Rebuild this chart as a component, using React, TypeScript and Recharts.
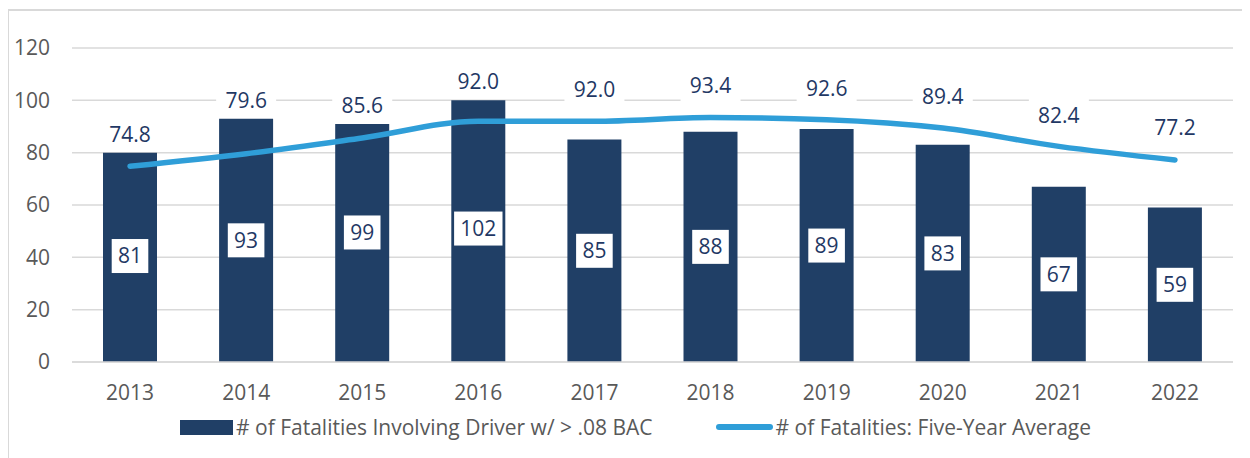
import React from "react";
import { ComposedChart, Bar, Line, XAxis, YAxis, CartesianGrid, LabelList, Legend } from "recharts";

const years = ["2013", "2014", "2015", "2016", "2017", "2018", "2019", "2020", "2021", "2022"];
const barHeights = [80, 93, 91, 100, 85, 88, 89, 83, 67, 59];
const barLabels = [81, 93, 99, 102, 85, 88, 89, 83, 67, 59];
const fiveYearAvg = [74.8, 79.6, 85.6, 92.0, 92.0, 93.4, 92.6, 89.4, 82.4, 77.2];
const yTicks = [0, 20, 40, 60, 80, 100, 120];
const lineLabelLift = [32, 53, 32, 40, 32, 32, 31, 32, 31, 32];

const BAR_NAME = "# of Fatalities Involving Driver w/ > .08 BAC";
const LINE_NAME = "# of Fatalities: Five-Year Average";

const data = years.map((y, i) => ({
  year: y,
  bar: barHeights[i],
  barLabel: barLabels[i],
  avg: fiveYearAvg[i],
}));

const FONT = "'Open Sans', sans-serif";
const NAVY = "#203F66";
const LABEL_NAVY = "#1F3864";
const BLUE = "#2F9ED8";
const GRID = "#D9D9D9";
const GRAY_TEXT = "#595959";
const FS = 21;

const BarLabel = (props: any) => {
  const { x, y, width, height, index } = props;
  const val = barHeights[index];
  const lbl = barLabels[index];
  const pxPerUnit = height / val;
  const bottom = y + height;
  const cy = bottom - (lbl / 2) * pxPerUnit;
  const cx = x + width / 2;
  const text = String(lbl);
  const w = text.length * 11.8 + 13;
  const h = 34;
  return (
    <g>
      <rect x={cx - w / 2} y={cy - h / 2} width={w} height={h} fill="#FFFFFF" />
      <text x={cx} y={cy} dy="0.355em" textAnchor="middle" fontSize={FS} fill={LABEL_NAVY} fontFamily={FONT}>
        {text}
      </text>
    </g>
  );
};

const LineLabel = (props: any) => {
  const { x, y, value, index } = props;
  const text = Number(value).toFixed(1);
  const cy = y - lineLabelLift[index];
  const w = 60;
  const h = 34;
  return (
    <g>
      <rect x={x - w / 2} y={cy - h / 2} width={w} height={h} fill="#FFFFFF" />
      <text x={x} y={cy} dy="0.355em" textAnchor="middle" fontSize={FS} fill={LABEL_NAVY} fontFamily={FONT}>
        {text}
      </text>
    </g>
  );
};

const LegendContent = () => (
  <div
    style={{
      height: 30,
      display: "flex",
      alignItems: "center",
      justifyContent: "center",
      fontFamily: FONT,
      fontSize: FS,
      color: GRAY_TEXT,
      whiteSpace: "nowrap",
      paddingLeft: 30,
    }}
  >
    <span style={{ display: "inline-block", width: 53, height: 15, background: NAVY, marginRight: 3 }} />
    <span>{BAR_NAME}</span>
    <span
      style={{
        display: "inline-block",
        width: 57,
        height: 6,
        borderRadius: 3,
        background: BLUE,
        marginLeft: 63,
        marginRight: 3,
      }}
    />
    <span>{LINE_NAME}</span>
  </div>
);

export default function App() {
  return (
    <div style={{ position: "relative", width: 1242, height: 450, overflow: "hidden", fontFamily: FONT }}>
      <div
        style={{
          position: "absolute",
          left: -1,
          top: 1,
          width: 1270,
          height: 480,
          border: `2px solid ${GRID}`,
          boxSizing: "border-box",
        }}
      />
      <div style={{ position: "absolute", left: 0, top: 0 }}>
        <ComposedChart
          width={1235}
          height={434}
          data={data}
          margin={{ top: 40, right: 10, bottom: 0, left: 0 }}
          barSize={54}
        >
          <CartesianGrid horizontal vertical={false} stroke={GRID} strokeWidth={1.5} />
          <XAxis
            dataKey="year"
            height={50}
            tickLine={false}
            axisLine={{ stroke: GRID, strokeWidth: 1.5 }}
            tickMargin={17}
            tick={{ fill: GRAY_TEXT, fontSize: FS, fontFamily: FONT }}
          />
          <YAxis
            width={64}
            domain={[0, 120]}
            ticks={yTicks}
            tickLine={false}
            axisLine={false}
            tickMargin={16}
            tick={{ fill: GRAY_TEXT, fontSize: FS, fontFamily: FONT }}
          />
          <Legend verticalAlign="bottom" height={30} content={<LegendContent />} />
          <Bar dataKey="bar" name={BAR_NAME} fill={NAVY} isAnimationActive={false}>
            <LabelList dataKey="barLabel" content={<BarLabel />} />
          </Bar>
          <Line
            dataKey="avg"
            name={LINE_NAME}
            type="monotone"
            stroke={BLUE}
            strokeWidth={5.5}
            strokeLinecap="round"
            dot={false}
            activeDot={false}
            isAnimationActive={false}
          >
            <LabelList dataKey="avg" content={<LineLabel />} />
          </Line>
        </ComposedChart>
      </div>
    </div>
  );
}
